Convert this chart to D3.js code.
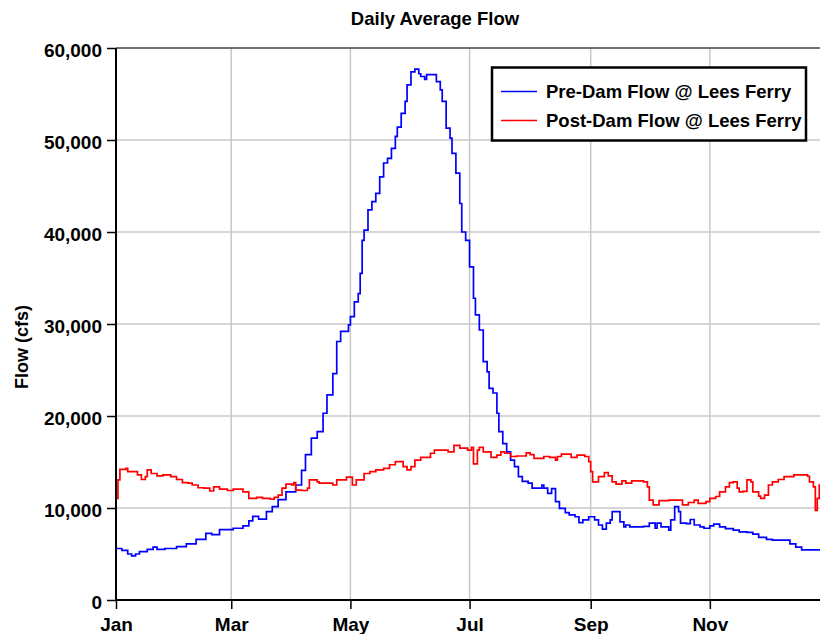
<!DOCTYPE html>
<html>
<head>
<meta charset="utf-8">
<script src="https://cdn.jsdelivr.net/npm/d3@7"></script>
<style>
    body { margin: 0; background: #fff; }
    text { font-family: "Liberation Sans", Arial, sans-serif; font-weight: bold; fill: #000; }
</style>
</head>
<body>
<div id="main"></div>
<script>
// day of year (0 = Jan 1) and flow in cfs
var preDays = [0, 3, 6, 8, 10, 12, 16, 19, 21, 25, 31, 36, 41, 46, 49, 53, 60, 65, 68, 70, 73, 77, 80, 83, 87, 92, 95, 97, 100, 103, 106, 108, 111, 113, 115, 119, 120, 122, 124, 125, 126, 127, 129, 131, 133, 135, 137, 139, 141, 143, 144, 146, 148, 149, 151, 153, 155, 156, 158, 159, 164, 166, 167, 169, 171, 172, 174, 176, 177, 179, 181, 183, 184, 186, 188, 190, 191, 193, 195, 196, 198, 200, 202, 204, 206, 208, 211, 213, 216, 218, 219, 221, 223, 225, 227, 230, 232, 235, 237, 239, 242, 245, 247, 249, 251, 253, 254, 257, 258, 260, 261, 263, 267, 270, 273, 276, 277, 279, 283, 284, 286, 288, 289, 292, 294, 296, 299, 301, 304, 306, 309, 312, 316, 319, 323, 326, 329, 333, 336, 343, 345, 348, 351, 365];
var preFlow = [5600, 5400, 5000, 4800, 5000, 5250, 5500, 5750, 5500, 5600, 5800, 6100, 6600, 7250, 7100, 7650, 7800, 8050, 8600, 9100, 8800, 9600, 10150, 10900, 11750, 12500, 14100, 15800, 17600, 18300, 20300, 22300, 24600, 28100, 29200, 29900, 30800, 32400, 33300, 35500, 39100, 40200, 42400, 43300, 44200, 46000, 47500, 48000, 49100, 50400, 51400, 52900, 54200, 56000, 57400, 57700, 57200, 56900, 56600, 57100, 56350, 55450, 54200, 51300, 50200, 48550, 46400, 43100, 40000, 39100, 36200, 32800, 31000, 29350, 25900, 24800, 23000, 22500, 20300, 18300, 17000, 16100, 15200, 14500, 13400, 12900, 12700, 12150, 12150, 12500, 12150, 11600, 12100, 10700, 9950, 9500, 9250, 9050, 8400, 8700, 9050, 8700, 8150, 7700, 8350, 8700, 9600, 9600, 8500, 7950, 8150, 7950, 7950, 8000, 8350, 7800, 8350, 7950, 7600, 8700, 10150, 9600, 8350, 8300, 8750, 8150, 7950, 7800, 8050, 8250, 7950, 7750, 7600, 7400, 7350, 7150, 6800, 6600, 6500, 6500, 6100, 5750, 5450, 5450];

var postDays = [0, 1, 2, 5, 6, 9, 11, 13, 15, 16, 18, 21, 24, 28, 31, 34, 37, 39, 42, 45, 48, 50, 53, 57, 60, 65, 68, 72, 75, 79, 81, 83, 85, 87, 90, 91, 92, 95, 98, 99, 103, 104, 111, 113, 118, 121, 123, 127, 130, 133, 137, 140, 143, 147, 149, 151, 153, 156, 161, 163, 167, 170, 173, 176, 180, 182, 183, 185, 186, 188, 192, 195, 197, 199, 202, 205, 210, 212, 214, 219, 222, 225, 226, 228, 231, 233, 236, 240, 242, 243, 244, 247, 250, 252, 254, 256, 259, 261, 264, 270, 272, 273, 275, 278, 283, 290, 293, 296, 298, 302, 304, 307, 309, 312, 314, 316, 318, 319, 321, 323, 325, 326, 329, 330, 332, 334, 336, 339, 342, 347, 352, 354, 355, 357, 358, 359, 360, 365];
var postFlow = [11050, 13050, 14200, 14300, 13950, 13950, 13600, 13100, 13400, 14150, 13750, 13500, 13600, 13400, 13100, 12750, 12700, 12500, 12200, 12150, 11850, 12300, 12050, 11900, 12050, 11750, 11050, 11150, 11050, 10950, 11150, 11400, 12150, 12600, 12500, 12750, 11950, 11900, 12150, 13050, 12850, 12700, 12500, 13050, 13350, 12500, 13050, 13750, 13950, 14150, 14300, 14700, 15050, 14500, 14150, 14500, 15200, 15500, 15950, 16300, 16300, 16100, 16800, 16500, 16300, 16600, 14800, 16300, 16600, 16100, 15500, 15750, 16100, 15950, 15600, 15650, 16000, 15800, 15400, 15600, 15500, 15200, 15600, 15850, 15850, 15500, 15750, 15600, 15050, 13950, 12850, 13400, 13850, 13500, 12850, 12600, 12950, 12700, 12950, 12850, 12300, 10850, 10350, 10800, 10850, 10350, 10600, 10850, 10500, 10700, 11050, 11250, 11750, 12300, 12750, 12850, 12150, 11750, 11800, 13050, 12850, 11750, 11300, 11050, 11400, 12500, 12850, 13100, 13400, 13600, 13600, 13450, 12850, 12300, 9750, 11050, 12500, 12500];

var seriesNames = ["Pre-Dam Flow @ Lees Ferry", "Post-Dam Flow @ Lees Ferry"];
var seriesColors = ["#0000ff", "#ff0000"];
var yTicks = [0, 10000, 20000, 30000, 40000, 50000, 60000];

var width = 820,
    height = 634,
    margin = {top: 48, left: 116, bottom: 34};

var yearStart = new Date(2001, 0, 1),
    yearEnd = new Date(2002, 0, 1);

function toDate(day) { return d3.timeDay.offset(yearStart, day); }

var preData = preDays.map(function(d, i) { return {date: toDate(d), value: preFlow[i]}; });
var postData = postDays.map(function(d, i) { return {date: toDate(d), value: postFlow[i]}; });

var svg = d3.select("#main")
    .append("svg")
    .attr("width", width)
    .attr("height", height);

var x = d3.scaleTime()
    .domain([yearStart, yearEnd])
    .range([margin.left, 829]);

var y = d3.scaleLinear()
    .domain([0, 60000])
    .range([height - margin.bottom, margin.top]);

var monthTicks = d3.timeMonth.every(2).range(yearStart, yearEnd);

// grid
svg.append("g")
    .selectAll("line.hgrid")
    .data(yTicks.filter(function(t) { return t > 0 && t < 60000; }))
    .enter()
    .append("line")
    .attr("class", "hgrid")
    .attr("x1", x.range()[0])
    .attr("x2", x.range()[1])
    .attr("y1", function(d) { return y(d); })
    .attr("y2", function(d) { return y(d); })
    .style("stroke", "#c8c8c8")
    .style("stroke-width", 1.5);

svg.append("g")
    .selectAll("line.vgrid")
    .data(monthTicks.slice(1))
    .enter()
    .append("line")
    .attr("class", "vgrid")
    .attr("x1", function(d) { return x(d); })
    .attr("x2", function(d) { return x(d); })
    .attr("y1", y(0))
    .attr("y2", y(60000))
    .style("stroke", "#c8c8c8")
    .style("stroke-width", 1.5);

// top frame
svg.append("line")
    .attr("x1", x.range()[0])
    .attr("x2", x.range()[1])
    .attr("y1", y(60000))
    .attr("y2", y(60000))
    .style("stroke", "#444")
    .style("stroke-width", 1.5);

// series
var line = d3.line()
    .x(function(d) { return x(d.date); })
    .y(function(d) { return y(d.value); })
    .curve(d3.curveStepAfter);

[preData, postData].forEach(function(data, i) {
    svg.append("path")
        .datum(data)
        .attr("d", line)
        .style("fill", "none")
        .style("stroke", seriesColors[i])
        .style("stroke-width", 1.7);
});

// axes
var yAxis = svg.append("g")
    .attr("transform", "translate(" + margin.left + ",0)")
    .call(d3.axisLeft(y)
        .tickValues(yTicks)
        .tickFormat(d3.format(","))
        .tickSize(9)
        .tickPadding(5));

var xAxis = svg.append("g")
    .attr("transform", "translate(0," + y(0) + ")")
    .call(d3.axisBottom(x)
        .tickValues(monthTicks)
        .tickFormat(d3.timeFormat("%b"))
        .tickSize(9)
        .tickPadding(9));

[yAxis, xAxis].forEach(function(ax) {
    ax.select(".domain").style("stroke", "#000").style("stroke-width", 2);
    ax.selectAll(".tick line").style("stroke", "#000").style("stroke-width", 1.5);
    ax.selectAll("text")
        .style("font-family", "'Liberation Sans', Arial, sans-serif")
        .style("font-weight", "bold")
        .style("font-size", "19px")
        .style("fill", "#000");
});
yAxis.selectAll("text").attr("dy", "0.45em");
// no domain end caps
yAxis.select(".domain").attr("d", "M0," + y(0) + "V" + y(60000));
xAxis.select(".domain").attr("d", "M" + x.range()[0] + ",0H" + x.range()[1]);

// title and axis label
svg.append("text")
    .attr("x", 435)
    .attr("y", 25)
    .attr("text-anchor", "middle")
    .style("font-size", "18.5px")
    .text("Daily Average Flow");

svg.append("text")
    .attr("transform", "translate(28,347) rotate(-90)")
    .attr("text-anchor", "middle")
    .style("font-size", "18px")
    .text("Flow (cfs)");

// legend
var legend = svg.append("g")
    .attr("transform", "translate(492,67.5)");

legend.append("rect")
    .attr("width", 314)
    .attr("height", 73)
    .style("fill", "#fff")
    .style("stroke", "#000")
    .style("stroke-width", 2.5);

var item = legend.selectAll("g.item")
    .data(seriesNames)
    .enter()
    .append("g")
    .attr("class", "item")
    .attr("transform", function(d, i) { return "translate(0," + (24 + i * 29) + ")"; });

item.append("line")
    .attr("x1", 9)
    .attr("x2", 45)
    .style("stroke", function(d, i) { return seriesColors[i]; })
    .style("stroke-width", 1.5);

item.append("text")
    .attr("x", 54)
    .attr("dy", "0.36em")
    .style("font-size", "18.5px")
    .text(function(d) { return d; });
</script>
</body>
</html>
